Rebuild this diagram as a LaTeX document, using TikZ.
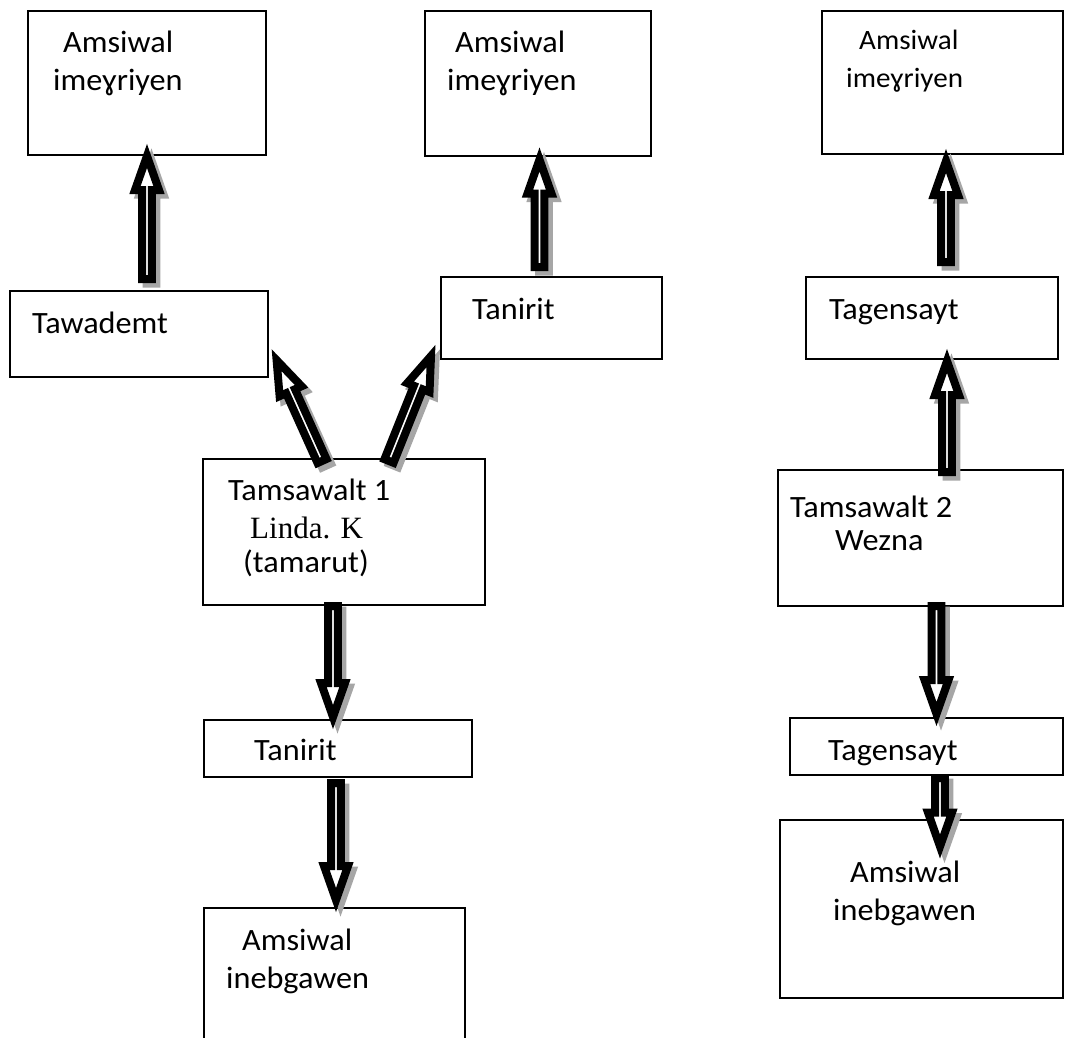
\documentclass[tikz,border=0pt]{standalone}
\usepackage{fontspec}
\setmainfont{Carlito}[FakeStretch=1.04]
\newfontfamily\romanface{Liberation Serif}
\usetikzlibrary{calc}

\tikzset{
  x=1pt, y=-1pt,
  box/.style={draw=black, line width=1.4pt, inner sep=0pt, outer sep=0pt, anchor=north west},
  lbl/.style={anchor=base west, inner sep=0pt, font=\fontsize{31}{36}\selectfont},
  lblsmall/.style={lbl, font=\fontsize{28}{34}\selectfont},
  arrowbody/.style={line width=8pt, line join=miter},
}

% outline of a hollow block arrow from (ba-a) to (ba-b)
\newcommand\arrowoutline[1]{%
  \path[arrowbody, #1]
    ($(ba-a)!4.9pt!90:(ba-b)$) -- ($(ba-h)!4.9pt!90:(ba-b)$) --
    ($(ba-h)!12pt!90:(ba-b)$) -- (ba-b) --
    ($(ba-h)!12pt!-90:(ba-b)$) -- ($(ba-h)!4.9pt!-90:(ba-b)$) --
    ($(ba-a)!4.9pt!-90:(ba-b)$) -- cycle;}

% block arrow with a drop shadow, from tail #1 to tip #2
\newcommand\blockarrow[2]{%
  \coordinate (ba-a) at (#1);
  \coordinate (ba-b) at (#2);
  \coordinate (ba-h) at ($(ba-b)!34pt!(ba-a)$);
  \begin{scope}[transform canvas={shift={(4.5pt,-4.5pt)}}]
    \arrowoutline{draw=black!35, fill=black!35}
  \end{scope}
  \arrowoutline{draw=black, fill=white}}

\begin{document}
\begin{tikzpicture}
\useasboundingbox (0,0) rectangle (1065,1037);
\clip (0,0) rectangle (1065,1037);
\fill[white] (0,0) rectangle (1065,1037);

% boxes
\node[box, minimum width=238pt, minimum height=144pt] (a1) at (28,11) {};
\node[box, minimum width=226pt, minimum height=145pt] (a2) at (425,11) {};
\node[box, minimum width=241pt, minimum height=143pt] (a3) at (822,11) {};
\node[box, minimum width=258pt, minimum height=86pt] (taw) at (10,291) {};
\node[box, minimum width=221pt, minimum height=82pt] (tan1) at (441,277) {};
\node[box, minimum width=252pt, minimum height=82pt] (tag1) at (806,277) {};
\node[box, minimum width=282pt, minimum height=146pt] (tam1) at (203,459) {};
\node[box, minimum width=285pt, minimum height=136pt] (tam2) at (778,470) {};
\node[box, minimum width=268pt, minimum height=57pt] (tan2) at (204,720) {};
\node[box, minimum width=273pt, minimum height=57pt] (tag2) at (790,718) {};
\node[box, minimum width=261pt, minimum height=140pt] (ine1) at (204,908) {};
\node[box, minimum width=283pt, minimum height=178pt] (ine2) at (780,820) {};

% labels
\node[lbl] (a1l1) at (63,52) {Amsiwal};
\node[lbl] (a1l2) at (53,90) {imeɣriyen};
\node[lbl] (a2l1) at (455,52) {Amsiwal};
\node[lbl] (a2l2) at (447,90) {imeɣriyen};
\node[lblsmall] (a3l1) at (859,49) {Amsiwal};
\node[lblsmall] (a3l2) at (846,87) {imeɣriyen};
\node[lbl] (tawl) at (32,333) {Tawademt};
\node[lbl] (tan1l) at (472,319) {Tanirit};
\node[lbl] (tag1l) at (829,319) {Tagensayt};
\node[lbl] (tam1l1) at (228,500) {Tamsawalt 1};
\node[lbl, font=\romanface\fontsize{31}{36}\selectfont] (tam1l2) at (250,538) {Linda. K};
\node[lbl] (tam1l3) at (243,572) {(tamarut)};
\node[lbl] (tam2l1) at (790,517) {Tamsawalt 2};
\node[lbl] (tam2l2) at (835,550) {Wezna};
\node[lbl] (tan2l) at (254,760) {Tanirit};
\node[lbl] (tag2l) at (828,760) {Tagensayt};
\node[lbl] (ine1l1) at (242,950) {Amsiwal};
\node[lbl] (ine1l2) at (226,988) {inebgawen};
\node[lbl] (ine2l1) at (850,882) {Amsiwal};
\node[lbl] (ine2l2) at (833,920) {inebgawen};

% connectors
\blockarrow{[xshift=8pt,yshift=12pt]taw.north}{[yshift=-1pt]a1.south}
\blockarrow{[xshift=-22pt,yshift=-2pt]tam1.north}{[xshift=8.6pt,yshift=16.8pt]taw.south east}
\blockarrow{[xshift=45pt,yshift=-2pt]tam1.north}{[xshift=-10pt,yshift=3pt]tan1.south west}
\blockarrow{[xshift=-12pt,yshift=10pt]tan1.north}{[xshift=1.5pt,yshift=-3.5pt]a2.south}
\blockarrow{[xshift=14pt,yshift=15pt]tag1.north}{[xshift=3.5pt,yshift=-7pt]a3.south}
\blockarrow{[xshift=26.5pt,yshift=-2pt]tam2.north}{[xshift=15pt,yshift=-2pt]tag1.south}
\blockarrow{[xshift=-11pt,yshift=-1pt]tam1.south}{[xshift=-5pt,yshift=3pt]tan2.north}
\blockarrow{[xshift=-2pt,yshift=-6pt]tan2.south}{[xshift=1.5pt,yshift=8pt]ine1.north}
\blockarrow{[xshift=16pt]tam2.south}{[xshift=10pt,yshift=4pt]tag2.north}
\blockarrow{[xshift=13.5pt,yshift=-3pt]tag2.south}{[xshift=18.5pt,yshift=-26.5pt]ine2.north}
\end{tikzpicture}
\end{document}
